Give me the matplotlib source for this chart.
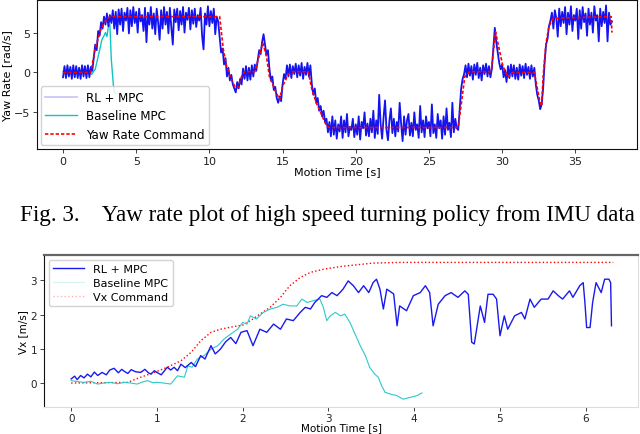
"""Yaw rate and forward velocity tracking plots (RL + MPC vs baseline MPC)."""

import numpy as np
import matplotlib
matplotlib.use("Agg")
import matplotlib.pyplot as plt
from matplotlib.lines import Line2D


# ---- top panel: yaw rate, RL + MPC sampled every 0.1 s (one row per second)
YAW_DT = 0.1
yaw_rl = [
    -0.6, 0.8, -0.7, 0.9, -0.5, 0.7, -0.8, 0.9, -0.6, 0.8,
    -0.7, 0.6, -0.8, 0.9, -0.5, 0.8, -0.7, 0.9, -0.6, 0.7,
    0.2, 1.8, 3.5, 2.8, 5.2, 4.6, 6.3, 5.5, 7.0, 6.0,
    7.4, 5.8, 7.2, 6.2, 7.8, 5.5, 7.6, 4.8, 7.9, 6.0,
    8.0, 5.2, 7.5, 6.5, 8.1, 4.9, 7.8, 5.8, 8.2, 6.2,
    7.6, 5.0, 8.0, 6.4, 7.2, 5.2, 8.1, 3.8, 7.5, 6.0,
    8.2, 5.5, 7.4, 4.8, 8.0, 6.2, 4.1, 7.8, 5.5, 8.2,
    6.0, 7.6, 4.9, 8.1, 5.6, 3.5, 7.9, 6.3, 8.0, 5.3,
    7.7, 6.0, 8.2, 5.0, 7.5, 6.6, 8.1, 5.4, 7.8, 6.1,
    8.0, 5.7, 7.2, 6.5, 8.1, 4.6, 2.9, 7.4, 6.0, 8.3,
    5.8, 7.7, 6.2, 8.0, 4.8, 7.0, 6.4, 4.5, 2.5, 3.0,
    1.0, 1.8, -0.5, 0.6, -1.0, -0.3, -1.5, -2.0, -2.5, -1.2,
    -2.0, -0.8, -1.5, 0.5, -0.8, 0.8, -1.0, 0.6, -0.9, 0.9,
    -0.5, 1.0, 0.2, 1.5, 2.8, 2.3, 3.8, 4.8, 3.5, 2.2,
    2.8, 0.5, -1.0, -0.5, -2.2, -1.8, -3.2, -3.8, -3.0, -3.6,
    -1.5, -0.2, -0.8, 0.9, -0.5, 1.0, -0.7, 0.8, -0.2, 1.1,
    -0.6, 0.9, -0.4, 1.2, -0.8, 0.7, -0.3, 1.2, -0.5, 0.9,
    -1.5, -2.8, -2.0, -3.8, -3.2, -4.8, -4.2, -5.5, -4.8, -6.2,
    -5.8, -7.5, -6.2, -8.0, -5.5, -7.8, -6.0, -8.3, -6.5, -7.4,
    -5.5, -8.2, -6.0, -7.5, -5.2, -8.0, -6.8, -7.2, -5.8, -8.1,
    -6.5, -7.8, -5.5, -8.4, -6.2, -7.0, -5.0, -7.9, -6.4, -8.0,
    -5.8, -7.5, -4.8, -8.2, -6.0, -7.7, -2.8, -6.5, -8.3, -5.6,
    -3.5, -7.2, -8.5, -6.0, -4.5, -7.6, -5.8, -8.0, -6.2, -7.4,
    -3.8, -6.5, -8.6, -5.5, -7.8, -6.0, -5.2, -7.9, -6.3, -8.0,
    -5.0, -7.2, -6.5, -8.2, -4.2, -7.5, -6.0, -8.1, -5.5, -7.0,
    -6.2, -8.0, -4.0, -7.6, -6.5, -8.2, -5.2, -7.0, -6.0, -8.3,
    -5.5, -7.8, -4.5, -7.2, -6.3, -8.1, -3.8, -7.5, -5.8, -7.0,
    -7.2, -4.5, -2.0, -0.8, -0.2, 0.9, -0.6, 1.1, -0.4, 0.8,
    -0.9, 1.0, -0.3, 1.2, -0.7, 0.6, -1.0, 0.9, -0.2, 1.1,
    -0.5, 0.8, -0.6, 0.5, 3.0, 5.6, 3.8, 2.5, 1.2, 0.4,
    1.0, -0.6, 0.3, -1.2, 0.8, -0.7, 1.0, -0.5, 0.9, -0.8,
    0.6, -0.9, 1.0, -0.4, 0.8, -0.7, 1.1, -0.3, 0.7, -0.8,
    0.9, -0.5, 0.6, -1.5, -2.8, -3.5, -4.6, -4.0, -2.0, 1.2,
    3.5, 4.2, 5.8, 6.5, 7.5, 5.5, 7.8, 6.8, 4.5, 8.0,
    5.8, 7.6, 6.2, 8.2, 4.8, 7.5, 6.0, 8.3, 5.2, 7.2,
    6.5, 8.0, 4.2, 7.8, 5.5, 8.2, 6.3, 7.4, 4.6, 8.0,
    6.0, 7.5, 5.0, 8.3, 6.5, 7.2, 3.9, 8.0, 5.8, 7.6,
    6.2, 8.4, 3.9, 7.5, 6.0, 6.4,
]

yaw_base_t = [0, 0.3, 0.6, 0.9, 1.2, 1.5, 1.8, 1.95, 2.2, 2.4, 2.55, 2.65,
              2.8, 2.9, 3.0, 3.1, 3.2, 3.3, 3.45, 3.55]
yaw_base = [0.1, -0.2, 0.2, -0.1, 0.3, -0.2, 0.1, -0.25, 0.4, 2.0, 3.2, 4.1,
            4.6, 5.0, 4.5, 5.8, 6.0, 1.6, -1.8, -2.6]

yaw_cmd_t = [0, 1.9, 2.2, 2.6, 3.0, 3.3, 10.7, 10.95, 11.17, 11.5, 11.75,
             11.95, 12.2, 12.4, 13.1, 13.65, 13.9, 14.1, 14.5, 14.8, 15.0,
             15.4, 15.7, 16.75, 17.0, 17.3, 17.65, 18.0, 18.2, 27.0, 27.45,
             27.8, 29.25, 29.55, 29.8, 30.05, 30.4, 30.7, 32.2, 32.55, 32.7,
             32.8, 33.0, 33.2, 33.5, 37.45, 37.5]
yaw_cmd = [0, 0, 3.0, 5.5, 6.8, 7.0, 7.0, 2.9, 0.8, -0.9, -1.8,
           -1.9, -0.5, 0.1, 0.1, 3.7, 2.0, -0.5, -2.3, -3.4, -1.7,
           -0.2, 0.1, 0.1, -2.1, -3.8, -5.2, -6.7, -6.9, -6.9, -0.5,
           0.1, 0.1, 5.1, 2.9, 0.8, -0.6, 0.0, 0.0, -3.4, -4.2,
           -0.5, 3.7, 5.8, 6.8, 7.0, 5.0]

# ---- bottom panel: forward velocity
vx_rl_t = [0, 0.04, 0.07, 0.11, 0.15, 0.19, 0.23, 0.27, 0.31, 0.36, 0.41,
           0.45, 0.5, 0.55, 0.59, 0.62, 0.66, 0.7, 0.75, 0.81, 0.86, 0.9,
           0.93, 0.97, 1.0, 1.05, 1.12, 1.16, 1.2, 1.24, 1.28, 1.33, 1.4,
           1.45, 1.51, 1.56, 1.63, 1.68, 1.74, 1.8, 1.86, 1.92, 1.98, 2.05,
           2.12, 2.2, 2.28, 2.36, 2.44, 2.51, 2.59, 2.67, 2.73, 2.79, 2.84,
           2.92, 2.98, 3.04, 3.1, 3.17, 3.23, 3.29, 3.35, 3.41, 3.47, 3.52,
           3.56, 3.6, 3.64, 3.68, 3.76, 3.8, 3.83, 3.91, 3.99, 4.07, 4.13,
           4.18, 4.22, 4.28, 4.36, 4.43, 4.51, 4.59, 4.63, 4.67, 4.7, 4.74,
           4.77, 4.82, 4.86, 4.92, 4.96, 5.0, 5.05, 5.09, 5.17, 5.25, 5.29,
           5.35, 5.4, 5.48, 5.56, 5.62, 5.68, 5.73, 5.81, 5.85, 5.93, 5.97,
           5.99, 6.01, 6.05, 6.08, 6.12, 6.18, 6.22, 6.27, 6.29, 6.3]
vx_rl = [0.12, 0.2, 0.1, 0.22, 0.15, 0.26, 0.18, 0.32, 0.22, 0.31, 0.24,
         0.38, 0.43, 0.3, 0.4, 0.34, 0.28, 0.39, 0.33, 0.31, 0.4, 0.3,
         0.26, 0.36, 0.31, 0.24, 0.46, 0.38, 0.46, 0.36, 0.55, 0.45, 0.6,
         0.48, 0.8, 0.7, 1.09, 0.85, 0.99, 1.2, 1.33, 1.15, 1.48, 1.53,
         1.09, 1.57, 1.48, 1.72, 1.57, 1.87, 1.82, 2.06, 2.21, 2.16, 2.35,
         2.55, 2.5, 2.64, 2.55, 2.74, 2.98, 2.84, 2.64, 2.84, 2.64, 2.93,
         3.03, 2.74, 2.16, 2.74, 2.6, 1.67, 2.25, 2.11, 2.55, 2.64, 2.84,
         2.64, 1.67, 2.3, 2.55, 2.64, 2.5, 2.69, 2.59, 1.19, 1.14, 1.77,
         2.25, 1.77, 2.59, 2.59, 2.45, 1.38, 1.96, 1.57, 1.96, 2.06, 1.87,
         2.45, 2.21, 2.45, 2.45, 2.69, 2.55, 2.45, 2.69, 2.5, 2.84, 2.93,
         2.35, 1.62, 1.62, 2.35, 2.93, 2.64, 3.03, 3.03, 2.93, 1.67]

vx_base_t = [0, 0.08, 0.15, 0.23, 0.31, 0.38, 0.46, 0.54, 0.62, 0.7, 0.77,
             0.83, 0.89, 0.95, 1.0, 1.08, 1.16, 1.24, 1.32, 1.36, 1.41, 1.47,
             1.55, 1.63, 1.71, 1.78, 1.86, 1.94, 2.0, 2.05, 2.09, 2.16, 2.24,
             2.32, 2.4, 2.47, 2.55, 2.63, 2.69, 2.75, 2.82, 2.9, 2.94, 2.98,
             3.02, 3.08, 3.14, 3.19, 3.25, 3.31, 3.37, 3.43, 3.48, 3.54, 3.58,
             3.62, 3.66, 3.72, 3.8, 3.87, 3.95, 4.03, 4.09]
vx_base = [0.07, 0.04, 0.02, 0.05, -0.03, 0.0, 0.02, -0.02, 0.02, 0.0, -0.03,
           0.03, 0.07, 0.01, 0.02, 0.0, -0.03, 0.21, 0.17, 0.5, 0.46, 0.7,
           0.8, 0.99, 1.09, 1.28, 1.43, 1.57, 1.77, 1.72, 1.96, 1.87, 2.06,
           2.16, 2.21, 2.3, 2.25, 2.25, 2.45, 2.35, 2.4, 2.45, 2.21, 1.82,
           1.96, 2.06, 1.96, 2.01, 1.77, 1.43, 1.09, 0.8, 0.46, 0.26, 0.17,
           -0.08, -0.27, -0.32, -0.37, -0.47, -0.42, -0.37, -0.29]

vx_cmd_t = [0, 0.66, 0.81, 0.97, 1.12, 1.28, 1.4, 1.51, 1.63, 1.74, 1.9, 2.0,
            2.09, 2.2, 2.32, 2.44, 2.55, 2.67, 2.79, 2.94, 3.14, 3.33, 3.52,
            3.83, 6.32]
vx_cmd = [0, 0.02, 0.17, 0.31, 0.46, 0.65, 0.9, 1.23, 1.48, 1.57, 1.65, 1.69,
          1.82, 2.01, 2.21, 2.5, 2.84, 3.08, 3.23, 3.32, 3.4, 3.45, 3.5,
          3.52, 3.52]

caption = "Fig. 3.    Yaw rate plot of high speed turning policy from IMU data"


def style_axes(ax, size):
    ax.tick_params(labelsize=size, length=3, width=0.6, pad=2, colors="#222222")
    ax.set_facecolor("white")


def main():
    plt.rcParams["font.family"] = ["DejaVu Sans"]
    fig = plt.figure(figsize=(6.4, 4.35), dpi=100)

    # top panel
    ax1 = fig.add_axes([0.058, 0.655, 0.937, 0.343])
    yaw_t = np.arange(len(yaw_rl)) * YAW_DT
    ax1.plot(yaw_t, yaw_rl, color="#1414f0", lw=1.3, zorder=2)
    ax1.plot(yaw_base_t, yaw_base, color="#11c4c4", lw=1.0, zorder=1)
    ax1.plot(yaw_cmd_t, yaw_cmd, color="red", ls="--", lw=1.2, dashes=(2, 1.2),
             zorder=3)
    ax1.set_xlim(-1.77, 39.2)
    ax1.set_ylim(-9.6, 9.1)
    ax1.set_xticks([0, 5, 10, 15, 20, 25, 30, 35])
    ax1.set_yticks([-5, 0, 5])
    ax1.set_xlabel("Motion Time [s]", fontsize=8, labelpad=0)
    ax1.set_ylabel("Yaw Rate [rad/s]", fontsize=8, labelpad=1)
    style_axes(ax1, 8)
    for s in ax1.spines.values():
        s.set_color("#111111")
    handles1 = [
        Line2D([], [], color="#ccccf8", lw=1.4),
        Line2D([], [], color="#11c4c4", lw=1.0),
        Line2D([], [], color="red", ls="--", lw=1.2, dashes=(2, 1.2)),
    ]
    ax1.legend(handles1, ["RL + MPC", "Baseline MPC", "Yaw Rate Command"],
               loc="lower left", fontsize=8.6, framealpha=0.85,
               borderaxespad=0.3, handlelength=2.6, labelspacing=0.45)

    # caption between the panels
    fig.text(0.512, 0.505, caption, ha="center", va="center", fontsize=16.6,
             family=["Liberation Serif"])

    # bottom panel
    ax2 = fig.add_axes([0.069, 0.062, 0.928, 0.349])
    ax2.plot(vx_rl_t, vx_rl, color="#1a1aee", lw=1.0, zorder=3)
    ax2.plot(vx_base_t, vx_base, color="#2ec8c8", lw=0.8, zorder=2)
    ax2.plot(vx_cmd_t, vx_cmd, color="red", ls=":", lw=1.0, zorder=1)
    ax2.set_xlim(-0.315, 6.61)
    ax2.set_ylim(-0.70, 3.73)
    ax2.set_xticks([0, 1, 2, 3, 4, 5, 6])
    ax2.set_yticks([0, 1, 2, 3])
    ax2.set_xlabel("Motion Time [s]", fontsize=7.5, labelpad=0)
    ax2.set_ylabel("Vx [m/s]", fontsize=7.5, labelpad=2)
    style_axes(ax2, 7.5)
    ax2.tick_params(axis="x", pad=1)
    ax2.spines["top"].set_color("#666666")
    ax2.spines["top"].set_linewidth(1.6)
    ax2.spines["left"].set_color("#111111")
    ax2.spines["bottom"].set_color("#dddddd")
    ax2.spines["right"].set_color("#dddddd")
    handles2 = [
        Line2D([], [], color="#1a1aee", lw=1.0),
        Line2D([], [], color="#2ec8c8", lw=0.8, alpha=0.2),
        Line2D([], [], color="red", ls=":", lw=1.0, alpha=0.3),
    ]
    ax2.legend(handles2, ["RL + MPC", "Baseline MPC", "Vx Command"],
               loc="upper left", fontsize=8, framealpha=0.85,
               borderaxespad=0.4, handlelength=2.8, labelspacing=0.35)

    fig.savefig("out.png", dpi=100)


if __name__ == "__main__":
    main()
